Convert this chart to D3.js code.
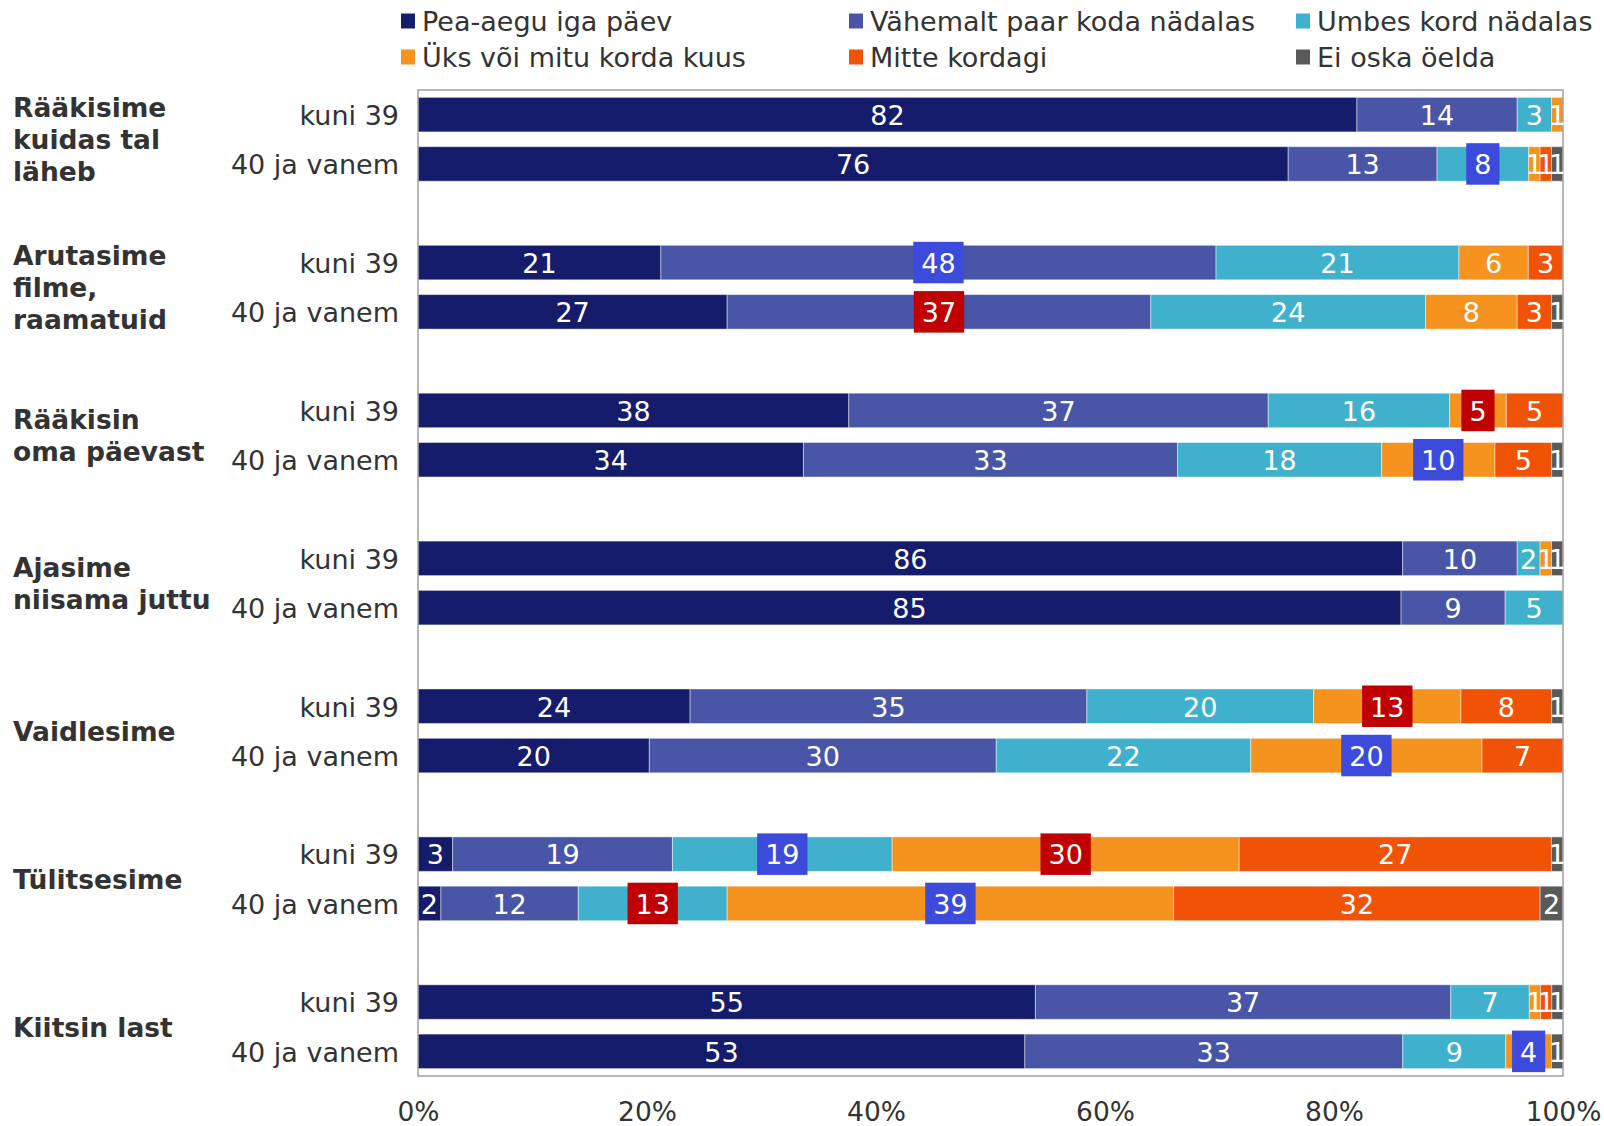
<!DOCTYPE html>
<html>
<head>
<meta charset="utf-8">
<script src="https://cdn.jsdelivr.net/npm/d3@7"></script>
<style>
  body { margin: 0; background: #fff; }
  text { font-family: "DejaVu Sans", Verdana, sans-serif; }
</style>
</head>
<body>
<div id="chart"></div>
<script>
// Categories
const groups = [
  "Rääkisime\nkuidas tal\nläheb",
  "Arutasime\nfilme,\nraamatuid",
  "Rääkisin\noma päevast",
  "Ajasime\nniisama juttu",
  "Vaidlesime",
  "Tülitsesime",
  "Kiitsin last"
];
const ages = ["kuni 39", "40 ja vanem"];
const seriesNames = [
  "Pea-aegu iga päev",
  "Vähemalt paar koda nädalas",
  "Umbes kord nädalas",
  "Üks või mitu korda kuus",
  "Mitte kordagi",
  "Ei oska öelda"
];
const colors = ["#141c6b", "#4955a6", "#40b1cc", "#f6921e", "#f05206", "#5a5a5a"];

// Series values, rows in order: group 1 kuni 39, group 1 40+, group 2 kuni 39, ...
const peaAegu  = [82, 76, 21, 27, 38, 34, 86, 85, 24, 20,  3,  2, 55, 53];
const vahemalt = [14, 13, 48, 37, 37, 33, 10,  9, 35, 30, 19, 12, 37, 33];
const umbes    = [ 3,  8, 21, 24, 16, 18,  2,  5, 20, 22, 19, 13,  7,  9];
const kuus     = [ 1,  1,  6,  8,  5, 10,  1,  0, 13, 20, 30, 39,  1,  4];
const mitte    = [ 0,  1,  3,  3,  5,  5,  0,  0,  8,  7, 27, 32,  1,  0];
const eiOska   = [ 0,  1,  0,  1,  0,  1,  1,  0,  1,  0,  1,  2,  1,  1];

// Significant differences: [row, series, "+" higher / "-" lower]
const significant = [
  [1, 2, "+"], [2, 1, "+"], [3, 1, "-"], [4, 3, "-"], [5, 3, "+"],
  [8, 3, "-"], [9, 3, "+"], [10, 2, "+"], [10, 3, "-"],
  [11, 2, "-"], [11, 3, "+"], [13, 3, "+"]
];

const xTicks = [0, 0.2, 0.4, 0.6, 0.8, 1];

const seriesValues = [peaAegu, vahemalt, umbes, kuus, mitte, eiOska];
const keys = seriesNames.map((d, i) => "s" + i);

// build rows
const rows = [];
groups.forEach((g, gi) => {
  ages.forEach((a, ai) => {
    const r = gi * 2 + ai;
    const row = { key: gi + "-" + ai, group: gi, age: a, row: r };
    keys.forEach((k, si) => row[k] = seriesValues[si][r]);
    rows.push(row);
  });
});

const sigMap = {};
significant.forEach(d => sigMap[d[0] + "|" + d[1]] = d[2]);

// chart dims
const W = 1604, H = 1126;
const margin = { top: 90, left: 418, right: 41, bottom: 50 };
const plotW = W - margin.left - margin.right;
const plotH = 986;

const svg = d3.select("#chart").append("svg")
    .attr("width", W)
    .attr("height", H);

const g = svg.append("g").attr("transform", "translate(" + margin.left + "," + margin.top + ")");

// slots: two bars per group plus an empty slot between groups
const slots = [];
groups.forEach((d, gi) => {
  slots.push(gi + "-0", gi + "-1");
  if (gi < groups.length - 1) slots.push("gap" + gi);
});

const y = d3.scaleBand().domain(slots).range([0, plotH]).paddingInner(0.3).paddingOuter(0.15);
const x = d3.scaleLinear().domain([0, 1]).range([0, plotW]);

const stack = d3.stack().keys(keys).offset(d3.stackOffsetExpand);
const series = stack(rows);

// bars
const layer = g.selectAll(".layer").data(series).enter().append("g")
    .attr("class", "layer")
    .attr("fill", (d, i) => colors[i]);

layer.selectAll("rect").data(d => d).enter().append("rect")
    .attr("x", d => x(d[0]))
    .attr("y", d => y(d.data.key))
    .attr("width", d => Math.max(0, x(d[1]) - x(d[0])))
    .attr("height", y.bandwidth())
    .attr("stroke", "#fff")
    .attr("stroke-opacity", 0.45)
    .attr("stroke-width", 1);

// frame
g.append("rect")
    .attr("x", 0).attr("y", 0)
    .attr("width", plotW).attr("height", plotH)
    .attr("fill", "none")
    .attr("stroke", "#a0a0a0")
    .attr("stroke-width", 1.5);

// value labels
series.forEach((s, si) => {
  s.forEach(d => {
    const v = d.data[s.key];
    if (!v) return;
    const cx = x((d[0] + d[1]) / 2);
    const cy = y(d.data.key) + y.bandwidth() / 2;
    const sig = sigMap[d.data.row + "|" + si];
    const lg = g.append("g");
    const t = lg.append("text")
        .attr("x", cx).attr("y", cy)
        .attr("dy", "0.38em")
        .attr("text-anchor", "middle")
        .attr("fill", "#fff")
        .style("font-size", "27px")
        .text(v);
    if (sig) {
      const tw = t.node().getComputedTextLength();
      lg.insert("rect", "text")
          .attr("x", cx - tw / 2 - 8)
          .attr("y", cy - y.bandwidth() / 2 - 3.5)
          .attr("width", tw + 16)
          .attr("height", y.bandwidth() + 7)
          .attr("fill", sig === "+" ? "#3c4bdc" : "#c00000");
    }
  });
});

// age labels
g.selectAll(".age").data(rows).enter().append("text")
    .attr("class", "age")
    .attr("x", -19)
    .attr("y", d => y(d.key) + y.bandwidth() / 2)
    .attr("dy", "0.38em")
    .attr("text-anchor", "end")
    .attr("fill", "#333")
    .style("font-size", "27px")
    .text(d => d.age);

// group labels
const lineH = 32;
groups.forEach((name, gi) => {
  const cy = (y(gi + "-0") + y(gi + "-1") + y.bandwidth()) / 2;
  const lines = name.split("\n");
  const t = g.append("text")
      .attr("x", 13 - margin.left)
      .attr("fill", "#333")
      .style("font-size", "26.5px")
      .style("font-weight", "bold");
  lines.forEach((l, li) => {
    t.append("tspan")
        .attr("x", 13 - margin.left)
        .attr("y", cy + (li - (lines.length - 1) / 2) * lineH)
        .attr("dy", "0.37em")
        .text(l);
  });
});

// x axis
const xAxis = d3.axisBottom(x).tickValues(xTicks).tickFormat(d3.format(".0%")).tickSize(0).tickPadding(26);
const ax = g.append("g").attr("transform", "translate(0," + plotH + ")").call(xAxis);
ax.select(".domain").remove();
ax.selectAll("text").attr("fill", "#333").style("font-size", "26.5px").style("font-family", "DejaVu Sans, Verdana, sans-serif");

// legend
const legX = [401, 849, 1296];
const legY = [21, 57];
const leg = svg.selectAll(".leg").data(seriesNames).enter().append("g")
    .attr("class", "leg")
    .attr("transform", (d, i) => "translate(" + legX[i % 3] + "," + legY[Math.floor(i / 3)] + ")");
leg.append("rect")
    .attr("x", 0).attr("y", -7.5)
    .attr("width", 14).attr("height", 15)
    .attr("fill", (d, i) => colors[i]);
leg.append("text")
    .attr("x", 21).attr("y", 0)
    .attr("dy", "0.38em")
    .attr("fill", "#333")
    .style("font-size", "27px")
    .text(d => d);
</script>
</body>
</html>
